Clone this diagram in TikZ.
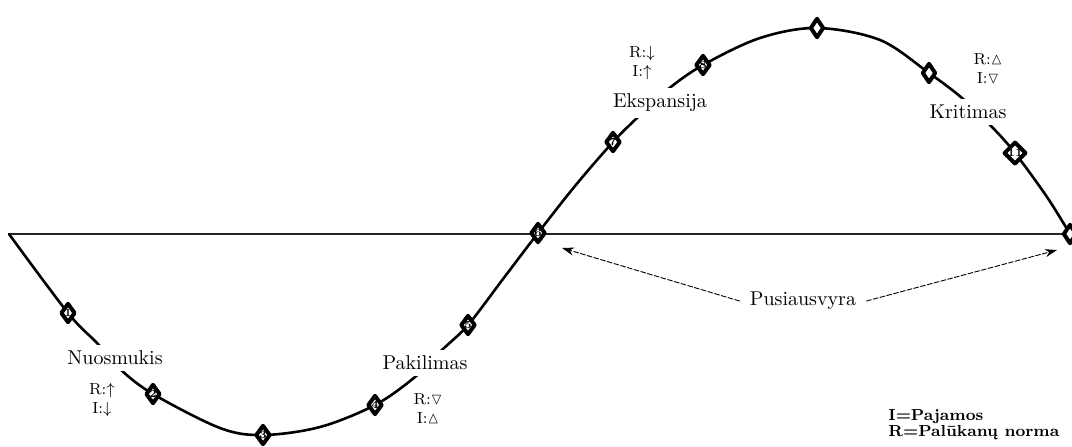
\documentclass[tikz,border=0pt]{standalone}
\usepackage{amssymb}
\usetikzlibrary{shapes.geometric,arrows.meta}
\begin{document}
\begin{tikzpicture}[x=0.5pt,y=-0.5pt,line cap=round,line join=round,>={Stealth[length=6pt,width=4pt]},
		phase/.style={shape=diamond,draw,fill=white,line width=2pt,minimum width=7pt,minimum height=10pt,inner sep=0pt,font=\fontsize{5.5}{6}\selectfont\bfseries},
		stage/.style={fill=white,inner sep=3pt,font=\fontsize{10}{12}\selectfont},
		rates/.style={inner sep=0pt,align=center,font=\fontsize{8}{9.5}\selectfont},
		legend/.style={anchor=west,inner sep=0pt,font=\fontsize{8}{9.5}\selectfont\bfseries},
		eqline/.style={->,dashed,dash pattern=on 2.5pt off 1pt,line width=0.45pt}]
	\useasboundingbox (0,0) rectangle (1072,446);
	\coordinate (s) at (9,234);
	\coordinate (e) at (1072,234);
	\coordinate (p1) at (68,313);
	\coordinate (p2) at (153,394);
	\coordinate (p3) at (263,435);
	\coordinate (p4) at (375,405);
	\coordinate (p5) at (468,325);
	\coordinate (p6) at (538,233);
	\coordinate (p7) at (613,142);
	\coordinate (p8) at (703,65);
	\coordinate (p9) at (817,28);
	\coordinate (p10) at (929,73);
	\coordinate (p11) at (1015,153);
	\coordinate (p12) at (1070,234);
	\draw[line width=0.7pt,black!85] (s) -- (e);
	\draw[line width=1.3pt] plot[smooth,tension=0.55] coordinates {(s) (p1) (97,343) (120,369) (p2) (220,428) (p3) (320,427) (p4) (415,377) (442,350) (p5) (503,279) (p6) (575,186) (p7) (638,117) (667,90) (p8) (760,38) (p9) (880,40) (p10) (962,98) (993,128) (p11) (1047,197) (p12)};
	\foreach \i/\t in {1/1,2/2,3/3,4/4,5/5,6/6,7/7,8/8,9/,10/,11/11,12/}
		\node[phase] (m\i) at (p\i) {\t};
	\node[stage] (down) at (115,358) {Nuosmukis};
	\node[stage] (up) at (425,363) {Pakilimas};
	\node[stage] (boom) at (660,103) {Ekspansija};
	\node[stage] (fall) at (968,112) {Kritimas};
	\node[rates] (r1) at (102,400) {R:$\uparrow$\\I:$\downarrow$};
	\node[rates] (r4) at (428,409) {R:$\triangledown$\\I:$\vartriangle$};
	\node[rates] (r8) at (642,63) {R:$\downarrow$\\I:$\uparrow$};
	\node[rates] (r10) at (988,69) {R:$\vartriangle$\\I:$\triangledown$};
	\node[stage,inner sep=5pt] (eq) at (803,301) {Pusiausvyra};
	\coordinate (h6) at (562,248);
	\coordinate (h12) at (1057,250);
	\draw[eqline] (eq.west) -- (h6);
	\draw[eqline] (eq.east) -- (h12);
	\node[legend] (li) at (888,417) {I=Pajamos};
	\node[legend] (lr) at (888,433) {R=Palūkanų norma};
\end{tikzpicture}
\end{document}
